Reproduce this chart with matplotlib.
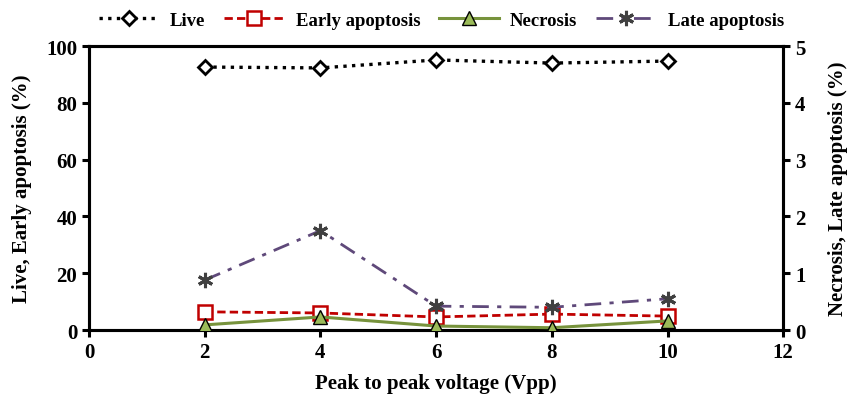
import matplotlib
matplotlib.use("Agg")
import matplotlib.pyplot as plt

plt.rcParams['font.family'] = ['Liberation Serif', 'DejaVu Serif']
plt.rcParams['font.weight'] = 'bold'

voltage = [2, 4, 6, 8, 10]
live = [92.6, 92.3, 95.1, 94.0, 94.7]
early_apoptosis = [6.4, 6.0, 4.6, 5.6, 4.9]
necrosis = [0.09, 0.23, 0.07, 0.04, 0.16]
late_apoptosis = [0.88, 1.75, 0.42, 0.40, 0.55]

x_ticks = [0, 2, 4, 6, 8, 10, 12]
left_ticks = [0, 20, 40, 60, 80, 100]
right_ticks = [0, 1, 2, 3, 4, 5]

fig = plt.figure(figsize=(8.57, 4.02), dpi=100)
ax = fig.add_axes([0.1039, 0.1766, 0.81, 0.7064])
ax2 = ax.twinx()

l1, = ax.plot(voltage, live, color='black', linestyle=(0, (1, 1.6)), linewidth=2.4,
              marker='D', markersize=7, markerfacecolor='white',
              markeredgecolor='black', markeredgewidth=2, label='Live', zorder=3)
l2, = ax.plot(voltage, early_apoptosis, color='#C00000', linestyle=(0, (3, 1.5)),
              linewidth=2, marker='s', markersize=10, markerfacecolor='white',
              markeredgecolor='#C00000', markeredgewidth=1.8,
              label='Early apoptosis', zorder=3)
l3, = ax2.plot(voltage, necrosis, color='#77933C', linestyle='-', linewidth=2.2,
               marker='^', markersize=10, markerfacecolor='#9BBB59',
               markeredgecolor='black', markeredgewidth=1, label='Necrosis',
               zorder=4)
l4, = ax2.plot(voltage, late_apoptosis, color='#5F497A',
               linestyle=(0, (6, 3, 1.5, 3)), linewidth=2, marker=(6, 2, 0),
               markersize=11, markeredgecolor='#404040', markeredgewidth=2.2,
               label='Late apoptosis', zorder=4)

ax.set_xlim(0, 12)
ax.set_ylim(0, 100)
ax2.set_ylim(0, 5)
ax.set_xticks(x_ticks)
ax.set_yticks(left_ticks)
ax2.set_yticks(right_ticks)

for a in (ax, ax2):
    for s in a.spines.values():
        s.set_linewidth(2.2)
    a.tick_params(width=2.2, length=5, labelsize=15, direction='out')

ax.set_xlabel('Peak to peak voltage (Vpp)', fontsize=15, fontweight='bold', labelpad=8)
ax.set_ylabel('Live, Early apoptosis (%)', fontsize=15, fontweight='bold', labelpad=10)
ax2.set_ylabel('Necrosis, Late apoptosis (%)', fontsize=15, fontweight='bold', labelpad=16)

fig.legend(handles=[l1, l2, l3, l4], loc='upper center', bbox_to_anchor=(0.515, 1.01),
           ncol=4, frameon=False, fontsize=13.5, handlelength=3.2, columnspacing=1.0,
           handletextpad=0.6)

fig.savefig('out.png', dpi=100)
